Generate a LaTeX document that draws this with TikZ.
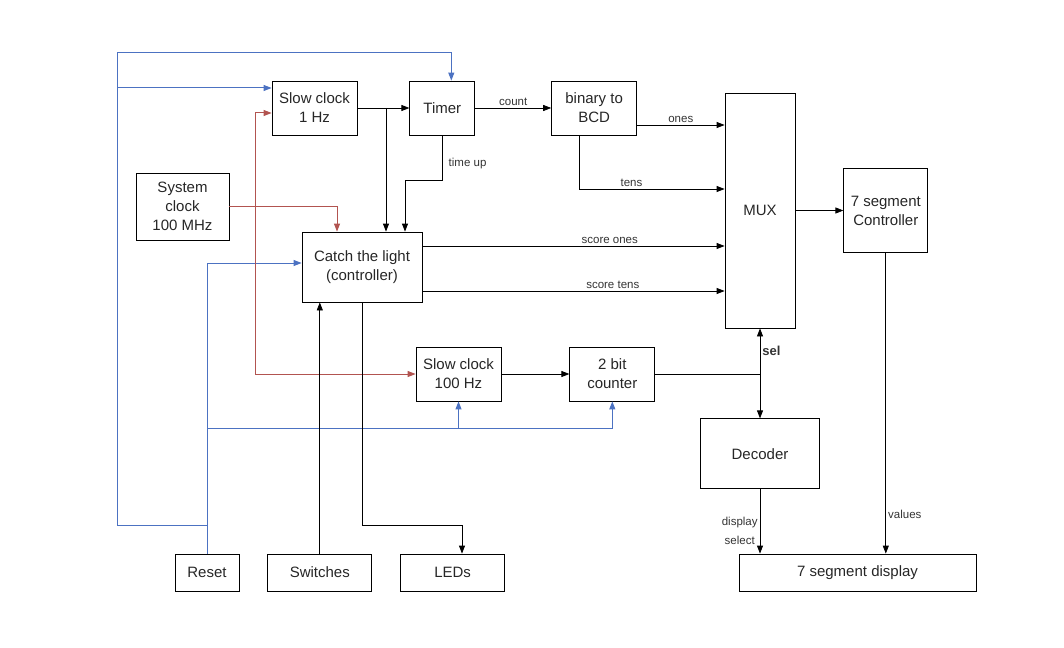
\documentclass[tikz,border=0pt]{standalone}
\usepackage{fontspec}
\setmainfont{Liberation Sans}
\usetikzlibrary{positioning, arrows.meta}
\definecolor{rstblue}{RGB}{76,114,194}
\definecolor{clkred}{RGB}{178,84,80}

\begin{document}
\begin{tikzpicture}[
				x=1pt, y=-1pt,
				>={Stealth[length=8pt,width=6pt,inset=0pt]},
				line width=0.8pt,
				block/.style={draw, align=center, inner sep=0pt, text=black!85, minimum width=85pt, minimum height=54pt, font=\fontsize{15}{19}\selectfont},
				lbl/.style={inner sep=2pt, text=black!80, font=\fontsize{11.5}{19}\selectfont},
				rst/.style={draw=rstblue, line width=1pt, ->},
				clk/.style={draw=clkred, line width=1pt, ->},
				sig/.style={draw=black, ->}]

			\useasboundingbox (0,0) rectangle (1064,647);

			\node[block] (slow_1hz) at (314.5,108) {Slow clock\\1 Hz};
			\node[block, minimum width=65pt, right=52pt of slow_1hz] (timer) {Timer};
			\node[block, right=76pt of timer] (bcd) {binary to\\BCD};
			\node[block, minimum width=70pt, minimum height=235pt] (mux) at (760,210.5) {MUX};
			\node[block, minimum width=84pt, minimum height=84pt, right=48pt of mux] (seg_ctrl) {7 segment\\Controller};
			\node[block, minimum width=93pt, minimum height=67pt] (sys_clk) at (182.5,206.5) {System\\clock\\100 MHz};
			\node[block, minimum width=120pt, minimum height=70pt] (catch) at (362,267) {Catch the light\\(controller)};
			\node[block] (slow_100hz) at (458.5,374) {Slow clock\\100 Hz};
			\node[block, right=68pt of slow_100hz] (counter) {2 bit\\counter};
			\node[block, minimum width=119pt, minimum height=70pt, below=90pt of mux] (decoder) {Decoder};
			\node[block, minimum width=64pt, minimum height=37pt] (reset) at (207,572.5) {Reset};
			\node[block, minimum width=104pt, minimum height=37pt, right=28pt of reset] (switches) {Switches};
			\node[block, minimum width=104pt, minimum height=37pt, right=28pt of switches] (leds) {LEDs};
			\node[block, minimum width=237pt, minimum height=37pt] (seg_disp) at (857.5,572.5) {7 segment display};

			\coordinate (rst_bend) at (117,525);
			\coordinate (rst_top) at (117,53);
			\coordinate (rst_left) at (117,88);
			\coordinate (rst_low) at (207,428);
			\coordinate (clk_split) at (255,206);
			\coordinate (tick) at (386,108);
			\coordinate (up_bend) at (441,180);
			\coordinate (y_ones) at (0,125);
			\coordinate (y_tens) at (0,189);
			\coordinate (x_tens) at (579,0);
			\coordinate (y_sones) at (0,246);
			\coordinate (y_stens) at (0,291);
			\coordinate (sel_split) at (760,374);
			\coordinate (led_bend) at (462,525);

			\draw[rst] (reset.north) -- (reset.north |- rst_bend) -- (rst_bend) |- (rst_top) -| ([xshift=9pt]timer.north);
			\draw[rst] (rst_left) -- (rst_left -| slow_1hz.west);
			\draw[rst] (reset.north) |- ([yshift=4pt]catch.west);
			\draw[rst] (rst_low) -| (slow_100hz.south);
			\draw[rst] (rst_low) -| (counter.south);

			\draw[clk] (sys_clk.east) -| ([xshift=-25pt]catch.north);
			\draw[clk] (clk_split) |- ([yshift=-5pt]slow_1hz.west);
			\draw[clk] (clk_split) |- (slow_100hz.west);

			\draw[sig] (slow_1hz) -- (timer);
			\draw[sig] (tick) -- (tick |- catch.north);
			\draw[sig] (timer.south) -- node[lbl, right, xshift=4pt, yshift=-6pt]{time up} (timer.south |- up_bend) -| ([xshift=43pt]catch.north);
			\draw[sig] (timer) -- node[lbl, above]{count} (bcd);
			\draw[sig] (bcd.east |- y_ones) -- node[lbl, above]{ones} (mux.west |- y_ones);
			\draw[sig] (x_tens |- bcd.south) |- node[lbl, above, pos=0.68]{tens} (mux.west |- y_tens);
			\draw[sig] (catch.east |- y_sones) -- node[lbl, above, pos=0.62]{score ones} (mux.west |- y_sones);
			\draw[sig] (catch.east |- y_stens) -- node[lbl, above, pos=0.63]{score tens} (mux.west |- y_stens);
			\draw[sig] (mux) -- (seg_ctrl);
			\draw[sig] (slow_100hz) -- (counter);
			\draw (counter.east) -- (sel_split);
			\draw[sig] (sel_split) -- node[lbl, right, font=\fontsize{13}{15}\bfseries]{sel} (mux.south);
			\draw[sig] (sel_split) -- (decoder.north);
			\draw[sig] (decoder) -- node[lbl, left, align=center, yshift=-9pt]{display\\select} (decoder.south |- seg_disp.north);
			\draw[sig] (seg_ctrl) -- node[lbl, right, pos=0.87]{values} (seg_ctrl.south |- seg_disp.north);
			\draw[sig] (switches) -- (catch.south -| switches);
			\draw[sig] (catch.south) |- (led_bend) -- (led_bend |- leds.north);

		\end{tikzpicture}
\end{document}
